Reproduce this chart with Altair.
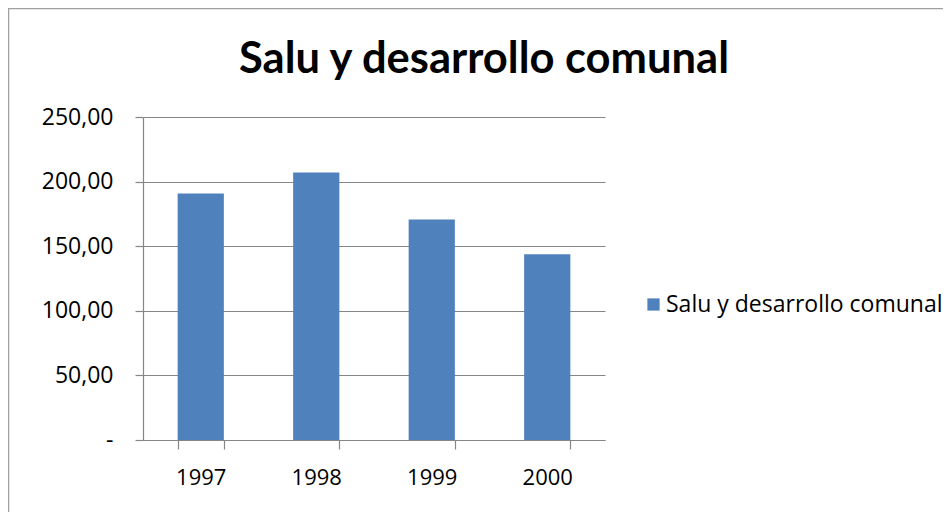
import altair as alt
import pandas as pd

years = ["1997", "1998", "1999", "2000"]
values = [190.8, 207.0, 170.7, 143.8]
series_name = "Salu y desarrollo comunal"
y_ticks = [0, 50, 100, 150, 200, 250]

df = pd.DataFrame({"year": years, "value": values, "series": [series_name] * len(years)})

FONT = "Open Sans"
TITLE_FONT = "Lato"
GRID = "#868686"

bars = alt.Chart(df).mark_bar(color="#4F81BD").encode(
    x=alt.X("year:N", title=None, sort=years,
            scale=alt.Scale(paddingInner=0.6, paddingOuter=0.3),
            axis=alt.Axis(labelAngle=0, tickBand="extent", domainColor=GRID, tickColor=GRID,
                          tickSize=9, labelPadding=18, labelFontSize=22, labelFont=FONT,
                          labelColor="#000000", grid=False)),
    y=alt.Y("value:Q", title=None,
            scale=alt.Scale(domain=[0, 250], nice=False),
            axis=alt.Axis(values=y_ticks, grid=True, gridColor=GRID, domainColor=GRID,
                          tickColor=GRID, tickSize=8, labelPadding=22, labelFontSize=23,
                          labelFont=FONT, labelColor="#000000",
                          labelExpr="datum.value == 0 ? '-' : replace(format(datum.value, '.2f'), '.', ',')")),
    color=alt.Color("series:N", title=None,
                    scale=alt.Scale(range=["#4F81BD"]),
                    legend=alt.Legend(orient="none", legendX=499, legendY=176,
                                      symbolType="square", symbolSize=150,
                                      symbolStrokeWidth=0, symbolOpacity=1, labelOffset=1,
                                      labelFontSize=23, labelFont=FONT, labelColor="#000000",
                                      labelLimit=400)),
)

border = alt.Chart(alt.Data(values=[{}])).mark_rect(
    fill=None, stroke="#a0a0a0", strokeWidth=1.5, clip=False
).encode(
    x=alt.value(-134.5), x2=alt.value(900), y=alt.value(-108.5), y2=alt.value(500)
)

chart = alt.layer(border, bars).properties(
    width=462, height=323,
    title=alt.TitleParams(series_name, fontSize=43.5, font=TITLE_FONT, fontWeight="bold",
                          color="#000000", anchor="middle", frame="group", dx=110,
                          baseline="alphabetic", offset=0, dy=109),
    autosize=alt.AutoSizeParams(type="none"),
    padding={"left": 135, "top": 109, "right": 338, "bottom": 72},
).configure_view(stroke=None).configure_axis(domainWidth=1.2, gridWidth=1.2, tickWidth=1.2)

chart.save("out.html", embed_options={"renderer": "svg", "actions": False})
